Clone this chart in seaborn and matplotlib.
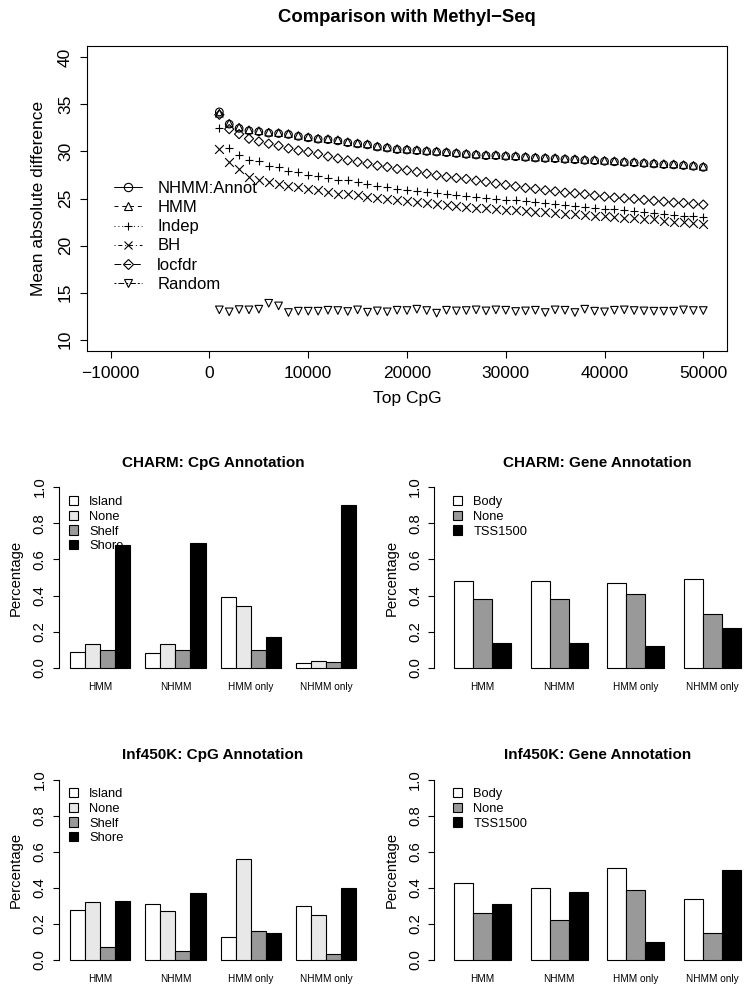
import matplotlib
matplotlib.use("Agg")
from matplotlib import pyplot as plt
from matplotlib.lines import Line2D
from matplotlib.patches import Patch
import seaborn as sns
import pandas as pd

# ---- top panel: mean absolute difference against Methyl-Seq ----
top_cpg = list(range(1000, 50001, 1000))

nhmm_annot = [34.2, 32.9, 32.45, 32.2, 32.1, 31.95, 31.9, 31.8, 31.6, 31.45,
              31.3, 31.25, 31.12, 30.93, 30.8, 30.7, 30.47, 30.36, 30.2, 30.15,
              30.08, 30.0, 29.94, 29.87, 29.78, 29.69, 29.62, 29.55, 29.55, 29.48,
              29.44, 29.37, 29.3, 29.26, 29.23, 29.16, 29.12, 29.05, 29.02, 28.95,
              28.9, 28.84, 28.8, 28.73, 28.67, 28.6, 28.57, 28.5, 28.42, 28.31]
hmm = [34.05, 33.0, 32.58, 32.3, 32.2, 32.05, 32.0, 31.9, 31.7, 31.55,
       31.4, 31.35, 31.24, 31.03, 30.9, 30.8, 30.57, 30.46, 30.3, 30.25,
       30.18, 30.1, 30.04, 29.97, 29.88, 29.79, 29.72, 29.65, 29.65, 29.58,
       29.54, 29.47, 29.4, 29.36, 29.33, 29.26, 29.22, 29.15, 29.12, 29.05,
       29.0, 28.94, 28.9, 28.83, 28.77, 28.7, 28.67, 28.6, 28.52, 28.41]
indep = [32.48, 30.32, 29.65, 29.12, 28.94, 28.41, 28.3, 27.96, 27.78, 27.5,
         27.35, 27.18, 27.0, 26.93, 26.76, 26.55, 26.29, 26.23, 26.05, 25.94,
         25.83, 25.7, 25.59, 25.49, 25.41, 25.31, 25.2, 25.1, 24.99, 24.88,
         24.81, 24.7, 24.6, 24.49, 24.39, 24.32, 24.22, 24.11, 24.04, 23.93,
         23.86, 23.75, 23.64, 23.58, 23.47, 23.37, 23.29, 23.19, 23.11, 23.05]
bh = [30.29, 28.83, 28.17, 27.25, 26.93, 26.79, 26.55, 26.37, 26.19, 26.05,
      25.94, 25.66, 25.52, 25.44, 25.34, 25.17, 25.1, 24.99, 24.88, 24.78,
      24.67, 24.57, 24.46, 24.35, 24.17, 24.1, 24.04, 23.96, 23.9, 23.82,
      23.75, 23.69, 23.61, 23.54, 23.47, 23.4, 23.33, 23.26, 23.19, 23.11,
      23.05, 22.98, 22.9, 22.84, 22.77, 22.66, 22.55, 22.48, 22.37, 22.24]
locfdr = [33.9, 32.37, 31.84, 31.35, 31.06, 30.82, 30.6, 30.32, 30.1, 29.94,
          29.72, 29.47, 29.26, 29.05, 28.88, 28.7, 28.49, 28.35, 28.14, 27.99,
          27.82, 27.64, 27.46, 27.29, 27.18, 27.08, 26.9, 26.76, 26.58, 26.44,
          26.29, 26.12, 26.02, 25.87, 25.76, 25.62, 25.55, 25.45, 25.31, 25.2,
          25.1, 25.02, 24.96, 24.85, 24.75, 24.67, 24.57, 24.53, 24.43, 24.35]
random_sel = [13.17, 12.96, 13.2, 13.17, 13.24, 13.87, 13.59, 12.89, 13.03, 13.03,
              13.03, 13.13, 13.1, 13.0, 13.17, 12.92, 13.06, 12.96, 13.13, 13.1,
              13.24, 13.1, 12.82, 13.13, 13.06, 13.1, 13.17, 13.06, 13.17, 13.13,
              13.0, 13.06, 13.13, 12.89, 13.17, 13.13, 12.89, 13.24, 13.03, 12.96,
              13.13, 13.17, 13.1, 13.06, 13.03, 13.03, 13.03, 13.17, 13.1, 13.1]

# ---- bottom panels: annotation proportions ----
groups = ["HMM", "NHMM", "HMM only", "NHMM only"]
cpg_levels = ["Island", "None", "Shelf", "Shore"]
gene_levels = ["Body", "None", "TSS1500"]

# one row per annotation level, one column per group
charm_cpg = [[0.09, 0.08, 0.39, 0.025],
             [0.13, 0.13, 0.34, 0.04],
             [0.10, 0.10, 0.10, 0.035],
             [0.68, 0.69, 0.17, 0.90]]
charm_gene = [[0.48, 0.48, 0.47, 0.49],
              [0.38, 0.38, 0.41, 0.30],
              [0.14, 0.14, 0.12, 0.22]]
inf_cpg = [[0.28, 0.31, 0.13, 0.30],
           [0.32, 0.27, 0.56, 0.25],
           [0.07, 0.05, 0.16, 0.035],
           [0.33, 0.37, 0.15, 0.40]]
inf_gene = [[0.43, 0.40, 0.51, 0.34],
            [0.26, 0.22, 0.39, 0.15],
            [0.31, 0.38, 0.10, 0.50]]

cpg_colors = ["white", "#e8e8e8", "#999999", "black"]
gene_colors = ["white", "#999999", "black"]

sns.set_theme(style="ticks", rc={"axes.edgecolor": "black", "text.color": "black",
                                 "axes.labelcolor": "black", "xtick.color": "black",
                                 "ytick.color": "black", "axes.linewidth": 0.8})
plt.rcParams["font.family"] = ["Liberation Sans", "DejaVu Sans"]

W, H = 750, 994
fig = plt.figure(figsize=(W / 100, H / 100), dpi=100)


def rect(l, t, r, b):
    # pixel box -> figure fraction
    return [l / W, 1 - b / H, (r - l) / W, (b - t) / H]


# top panel
ax = fig.add_axes(rect(87, 46, 727, 351))
series = [("NHMM:Annot", nhmm_annot, "o", "-"),
          ("HMM", hmm, "^", (0, (4, 4))),
          ("Indep", indep, "+", (0, (1, 3))),
          ("BH", bh, "x", (0, (1, 3, 4, 3))),
          ("locfdr", locfdr, "D", (0, (7, 3))),
          ("Random", random_sel, "v", (0, (2, 2, 6, 2)))]
handles = []
for name, vals, mk, ls in series:
    if mk in ("+", "x"):
        sns.scatterplot(x=top_cpg, y=vals, ax=ax, marker=mk, s=40, color="black", linewidth=0.8)
    else:
        sz = 22 if mk == "D" else 30
        sns.scatterplot(x=top_cpg, y=vals, ax=ax, marker=mk, s=sz, facecolor="none",
                        edgecolor="black", linewidth=0.8)
    handles.append(Line2D([], [], color="black", linestyle=ls, linewidth=0.7, marker=mk,
                          markersize=6 if mk != "D" else 5, markerfacecolor="none",
                          markeredgewidth=0.8, label=name))

ax.set_xlim(-12400, 52400)
ax.set_ylim(8.8, 41.2)
ax.set_xticks([-10000, 0, 10000, 20000, 30000, 40000, 50000])
ax.set_yticks([10, 15, 20, 25, 30, 35, 40])
ax.tick_params(labelsize=12.5, length=5, width=0.8, direction="out")
ax.tick_params(axis="x", pad=6)
ax.tick_params(axis="y", pad=5)
plt.setp(ax.get_yticklabels(), rotation=90, va="center")
ax.set_xlabel("Top CpG", fontsize=12.5, labelpad=7)
ax.set_ylabel("Mean absolute difference", fontsize=12.5, labelpad=9)
ax.legend(handles=handles, loc="upper left", bbox_to_anchor=(114 / W, 1 - 181 / H),
          bbox_transform=fig.transFigure, frameon=False, fontsize=12, handlelength=1.7,
          handletextpad=0.9, labelspacing=0.25, borderpad=0, borderaxespad=0)
fig.text(407 / W, 1 - 18 / H, "Comparison with Methyl\u2212Seq", ha="center", va="center",
         fontsize=13.3, fontweight="bold")


def bar_panel(l, r, t, b, levels, values, colors, title, xlim, title_y, leg_x, leg_y):
    ax = fig.add_axes(rect(l, t, r, b))
    df = pd.DataFrame({"group": [g for lv in levels for g in groups],
                       "level": [lv for lv in levels for g in groups],
                       "value": [v for row in values for v in row]})
    sns.barplot(data=df, x="group", y="value", hue="level", order=groups, hue_order=levels,
                palette=colors, saturation=1, edgecolor="black", linewidth=0.8,
                width=len(levels) / (len(levels) + 1), errorbar=None, legend=False, ax=ax)
    ax.set_xlim(*xlim)
    ax.set_ylim(-0.04, 1.04)
    ax.set_yticks([0, 0.2, 0.4, 0.6, 0.8, 1.0])
    ax.set_yticklabels(["0.0", "0.2", "0.4", "0.6", "0.8", "1.0"])
    ax.tick_params(axis="y", labelsize=10.7, length=4.5, width=0.8, pad=4)
    plt.setp(ax.get_yticklabels(), rotation=90, va="center")
    ax.tick_params(axis="x", labelsize=7.2, length=0, pad=5)
    for side in ("top", "right", "bottom"):
        ax.spines[side].set_visible(False)
    ax.spines["left"].set_bounds(0, 1)
    ax.set_xlabel("")
    ax.set_ylabel("Percentage", fontsize=10.7, labelpad=7)
    cx = (l + r) / 2
    fig.text(cx / W, 1 - title_y / H, title, ha="center", va="center",
             fontsize=11, fontweight="bold")
    patches = [Patch(facecolor=c, edgecolor="black", linewidth=0.8, label=lv)
               for lv, c in zip(levels, colors)]
    leg = ax.legend(handles=patches, loc="upper left", bbox_to_anchor=(leg_x / W, 1 - leg_y / H),
                    bbox_transform=fig.transFigure, frameon=False, fontsize=9.3,
                    handlelength=0.72, handleheight=0.72, handletextpad=0.85,
                    labelspacing=0.2, borderpad=0, borderaxespad=0)
    leg.set_zorder(0.5)  # bars are drawn over the legend, as in the original


bar_panel(58.6, 367.5, 479.8, 675.2, cpg_levels, charm_cpg, cpg_colors,
          "CHARM: CpG Annotation", (-0.552, 3.552), 463, 69, 496)
bar_panel(434, 761, 479.8, 675.2, gene_levels, charm_gene, gene_colors,
          "CHARM: Gene Annotation", (-0.637, 3.637), 463, 453, 496)
bar_panel(58.6, 367.5, 772.8, 967.2, cpg_levels, inf_cpg, cpg_colors,
          "Inf450K: CpG Annotation", (-0.552, 3.552), 755, 69, 788)
bar_panel(434, 761, 772.8, 967.2, gene_levels, inf_gene, gene_colors,
          "Inf450K: Gene Annotation", (-0.637, 3.637), 755, 453, 788)

fig.savefig("out.png", dpi=100)
